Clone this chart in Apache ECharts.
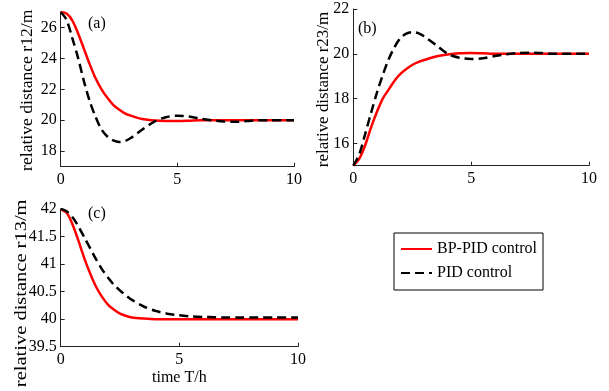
<!DOCTYPE html>
<html><head><meta charset="utf-8">
<script src="https://cdn.jsdelivr.net/npm/echarts@6/dist/echarts.min.js"></script>
<style>html,body{margin:0;padding:0;background:#fff}#c{width:609px;height:391px}</style>
</head><body><div id="c"></div>
<script>
var T = [0,0.25,0.5,0.75,1,1.25,1.5,1.75,2,2.25,2.5,2.75,3,3.5,4,4.5,5,5.5,6,6.5,7,7.5,8,8.5,9,9.5,10];
var bpA  = [27,26.9,26.45,25.6,24.6,23.6,22.7,22.0,21.45,21.0,20.7,20.45,20.3,20.08,19.98,19.95,19.95,19.97,20,20,20,20,20,20,20,20,20];
var pidA = [27,26.5,25.3,24.0,22.5,21.2,20.2,19.4,18.95,18.7,18.6,18.65,18.85,19.4,19.9,20.2,20.3,20.25,20.1,20.0,19.92,19.9,19.95,20,20,20,20];
var bpB  = [15,15.3,15.9,16.7,17.4,18.0,18.4,18.8,19.1,19.32,19.5,19.63,19.72,19.88,19.97,20.02,20.03,20.02,20,20,20,20,20,20,20,20,20];
var pidB = [15,15.5,16.4,17.35,18.25,19.05,19.75,20.3,20.7,20.9,20.97,20.92,20.78,20.4,20.0,19.82,19.77,19.8,19.9,19.98,20.03,20.05,20.03,20,20,20,20];
var bpC  = [42,41.93,41.72,41.42,41.1,40.82,40.58,40.4,40.26,40.17,40.1,40.06,40.03,40.01,40,40,40,40,40,40,40,40,40,40,40,40,40];
var pidC = [42,41.96,41.85,41.68,41.48,41.28,41.08,40.9,40.75,40.62,40.52,40.43,40.35,40.23,40.15,40.1,40.07,40.05,40.04,40.035,40.03,40.03,40.03,40.03,40.03,40.03,40.03];
var xTicks = [0,5,10];
var yTicksA = [18,20,22,24,26];
var yTicksB = [16,18,20,22];
var yTicksC = [39.5,40,40.5,41,41.5,42];
var names = ['BP-PID control','PID control'];
var yNames = ['relative distance r12/m','relative distance r23/m','relative distance r13/m'];
var xName = 'time T/h';
var panelLabels = ['(a)','(b)','(c)'];

function pairs(v){return T.map(function(t,i){return [t,v[i]];});}
var FONT = 'Liberation Serif';
var axisLine = {show:true, lineStyle:{color:'#222', width:1}};
function xAx(idx, nm){
  return {type:'value', gridIndex:idx, min:0, max:10,
    axisLine:axisLine, splitLine:{show:false},
    axisTick:{inside:true, length:4, customValues:xTicks, lineStyle:{color:'#222'}},
    axisLabel:{customValues:xTicks, color:'#000', fontFamily:FONT, fontSize:16, margin:5},
    name:nm||'', nameLocation:'middle', nameGap:23,
    nameTextStyle:{color:'#000', fontFamily:FONT, fontSize:16}};
}
function yAx(idx, mn, mx, ticks, fmt){
  return {type:'value', gridIndex:idx, min:mn, max:mx,
    axisLine:axisLine, splitLine:{show:false},
    axisTick:{inside:true, length:4, customValues:ticks, lineStyle:{color:'#222'}},
    axisLabel:{customValues:ticks, color:'#000', fontFamily:FONT, fontSize:16, margin:4, formatter:fmt}};
}
function ser(name, data, idx){
  var red = name===names[0];
  return {type:'line', name:name, xAxisIndex:idx, yAxisIndex:idx, data:pairs(data),
    showSymbol:false, symbol:'none', smooth:0.3, z: red?2:3,
    lineStyle:{color: red?'#ff0000':'#000', width:2.5, type: red?'solid':[9,5]},
    itemStyle:{color: red?'#ff0000':'#000'}};
}
function yName(txt, x, y, sc){
  return {type:'text', x:x, y:y, rotation:Math.PI/2, scaleX:sc,
    style:{text:txt, font:'16px "Liberation Serif"', fill:'#000', align:'center', verticalAlign:'middle',
      textAlign:'center', textVerticalAlign:'middle'}};
}
var chart = echarts.init(document.getElementById('c'), null, {renderer:'canvas'});
chart.setOption({
  animation:false,
  backgroundColor:'#fff',
  grid:[
    {left:60.7, top:12, width:233.3, height:154.7},
    {left:353.3, top:9, width:235.7, height:156.7},
    {left:60.7, top:209, width:237.3, height:137.7}
  ],
  xAxis:[xAx(0), xAx(1), xAx(2, xName)],
  yAxis:[
    yAx(0,17,27,yTicksA),
    yAx(1,15,22,yTicksB),
    yAx(2,39.5,42,yTicksC, function(v){return String(v);})
  ],
  legend:{data:names, orient:'vertical', left:394, top:233,
    backgroundColor:'#fff', borderColor:'#000', borderWidth:1,
    padding:[8,6,9,6], itemGap:8, itemWidth:31, itemHeight:14,
    itemStyle:{color:'transparent', borderWidth:0, opacity:0},
    textStyle:{color:'#000', fontFamily:FONT, fontSize:16}},
  graphic:[
    {type:'text', left:88, top:16, style:{text:panelLabels[0], font:'16px "Liberation Serif"', fill:'#000'}},
    {type:'text', left:358, top:21, style:{text:panelLabels[1], font:'16px "Liberation Serif"', fill:'#000'}},
    {type:'text', left:88, top:206, style:{text:panelLabels[2], font:'16px "Liberation Serif"', fill:'#000'}},
    yName(yNames[0], 28, 90.3, 1.1),
    yName(yNames[1], 323.3, 89.5, 1.06),
    yName(yNames[2], 22, 293.3, 1.28)
  ],
  series:[
    ser(names[0], bpA, 0), ser(names[1], pidA, 0),
    ser(names[0], bpB, 1), ser(names[1], pidB, 1),
    ser(names[0], bpC, 2), ser(names[1], pidC, 2)
  ]
});
</script></body></html>
